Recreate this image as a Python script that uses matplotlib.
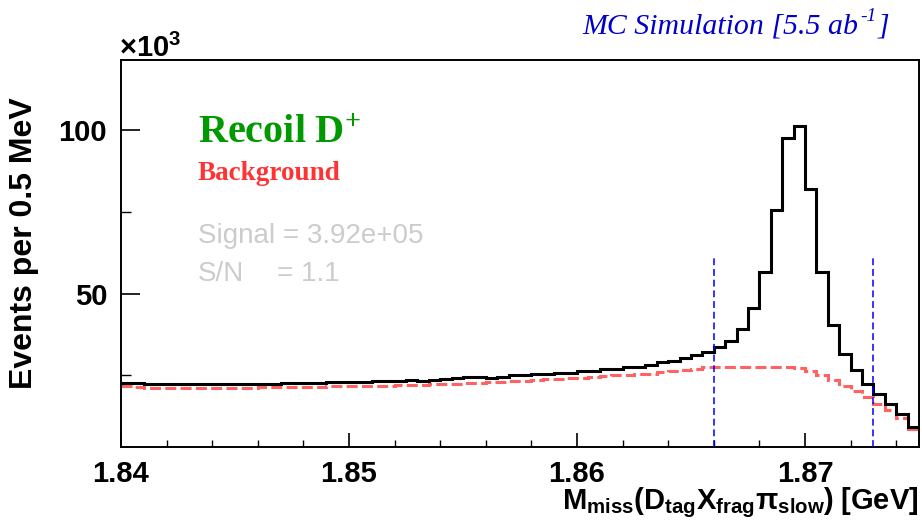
import numpy as np
import matplotlib
matplotlib.use("Agg")
import matplotlib.pyplot as plt

# ---------------- data ----------------
x_min, x_max = 1.84, 1.875
bin_width = 0.0005
y_min, y_max = 3.0, 121.5          # in units of 10^3 events

# total (black) histogram, 70 bins of 0.5 MeV, in 10^3 events
total = [22.7, 22.7, 22.3, 22.3, 22.2, 22.2, 22.2, 22.4, 22.4, 22.4,
         22.3, 22.3, 22.4, 22.4, 22.6, 22.6, 22.6, 22.6, 22.8, 22.8,
         22.9, 22.9, 23.1, 23.1, 23.1, 23.4, 23.3, 23.6, 23.9, 24.0,
         24.3, 24.3, 24.2, 24.3, 24.9, 25.0, 25.2, 25.5, 25.7, 25.8,
         26.2, 26.2, 26.9, 27.0, 27.5, 27.5, 28.1, 28.9, 29.4, 30.2,
         31.1, 32.2, 33.6, 35.5, 39.1, 45.5, 56.7, 75.7, 97.5, 101.4,
         81.9, 56.7, 40.4, 31.6, 26.6, 22.4, 19.2, 16.2, 13.1, 9.0]

# background (red dashed) histogram
background = [21.6, 21.4, 21.2, 21.1, 21.1, 21.1, 21.0, 21.1, 21.1, 21.1,
              21.2, 21.2, 21.3, 21.3, 21.4, 21.4, 21.5, 21.5, 21.6, 21.6,
              21.7, 21.7, 21.8, 21.8, 21.9, 22.0, 22.1, 22.2, 22.3, 22.4,
              22.5, 22.6, 22.8, 22.9, 23.1, 23.3, 23.5, 23.7, 23.9, 24.0,
              24.2, 24.4, 24.6, 24.9, 25.0, 25.2, 25.5, 25.9, 26.2, 26.6,
              27.0, 27.4, 27.6, 27.6, 27.6, 27.6, 27.6, 27.6, 27.6, 27.2,
              26.3, 25.0, 23.5, 21.8, 20.3, 18.3, 16.2, 14.3, 12.0, 8.5]

cut_lines = [1.866, 1.873]
cut_line_top = 60.8

x_ticks = [1.84, 1.85, 1.86, 1.87]
x_tick_labels = ["1.84", "1.85", "1.86", "1.87"]
y_ticks = [50, 100]
y_tick_labels = ["50", "100"]
y_minor_ticks = [25, 75]

signal_text = "Signal = 3.92e+05"
sn_label = "S/N"
sn_value = "= 1.1"
title_main = "MC Simulation [5.5 ab"
title_sup = "-1"
title_end = "]"

# ---------------- style ----------------
plt.rcParams['mathtext.fontset'] = 'custom'
plt.rcParams['mathtext.bf'] = 'Liberation Sans:bold'
plt.rcParams['mathtext.sf'] = 'Liberation Serif:bold'
plt.rcParams['mathtext.it'] = 'Liberation Serif:italic'
plt.rcParams['mathtext.rm'] = 'Liberation Sans:bold'

W, H = 922, 526
fig = plt.figure(figsize=(W / 100, H / 100), dpi=100)
L, R, T, B = 121, 919, 60, 447
ax = fig.add_axes([L / W, (H - B) / H, (R - L) / W, (B - T) / H])

def fx(px):
    return px / W

def fy(py):
    return 1 - py / H

edges = x_min + bin_width * np.arange(len(total) + 1)

ax.stairs(background, edges, baseline=None, color='#ff6262', lw=2.2,
          linestyle=(0, (3.6, 1.4)), zorder=2)
ax.stairs(total, edges, baseline=None, color='black', lw=2.2, zorder=3)

for xc in cut_lines:
    ax.plot([xc, xc], [y_min, cut_line_top], color='#0000ff', lw=1.1,
            linestyle=(0, (4.5, 2.5)), zorder=4)

ax.set_xlim(x_min, x_max)
ax.set_ylim(y_min, y_max)

ax.set_xticks(x_ticks)
ax.set_xticklabels(x_tick_labels)
ax.set_xticks(np.arange(1.842, 1.875, 0.002), minor=True)
ax.set_yticks(y_ticks)
ax.set_yticklabels(y_tick_labels)
ax.set_yticks(y_minor_ticks, minor=True)

ax.tick_params(axis='x', which='major', direction='in', length=10, width=1.2,
               pad=9, top=False)
ax.tick_params(axis='x', which='minor', direction='in', length=5, width=1.0,
               top=False)
ax.tick_params(axis='y', which='major', direction='in', length=14, width=1.2,
               pad=10, right=False)
ax.tick_params(axis='y', which='minor', direction='in', length=7, width=1.0,
               right=False)
for lab in ax.get_xticklabels() + ax.get_yticklabels():
    lab.set_fontfamily('Liberation Sans')
    lab.set_fontweight('bold')
    lab.set_fontsize(21)

for s in ax.spines.values():
    s.set_linewidth(1.4)

# axis titles
fig.text(fx(24), fy(243), "Events per 0.5 MeV", rotation=90, ha='center',
         va='center', fontfamily='Liberation Sans', fontweight='bold',
         fontsize=23)
fig.text(fx(919), fy(509),
         r'$\mathbf{M_{miss}(D_{tag}X_{frag}\pi_{slow})\ [GeV]}$',
         ha='right', va='baseline', fontsize=21)

# exponent
fig.text(fx(119), fy(57), r'$\mathbf{\times 10^{3}}$', ha='left',
         va='baseline', fontsize=21)

# labels
fig.text(fx(198), fy(143), r'$\mathsf{Recoil\ D^{+}}$', ha='left',
         va='baseline', fontsize=29, color='#009900')
fig.text(fx(198), fy(180), "Background", ha='left', va='baseline',
         fontfamily='Liberation Serif', fontweight='bold', fontsize=19.5,
         color='#ff3333')
fig.text(fx(198), fy(243), signal_text, ha='left', va='baseline',
         fontfamily='Liberation Sans', fontsize=20, color='#cccccc')
fig.text(fx(198), fy(281), sn_label, ha='left', va='baseline',
         fontfamily='Liberation Sans', fontsize=20, color='#cccccc')
fig.text(fx(277), fy(281), sn_value, ha='left', va='baseline',
         fontfamily='Liberation Sans', fontsize=20, color='#cccccc')

# title with manual superscript
renderer = fig.canvas.get_renderer()
tprops = dict(fontfamily='Liberation Serif', fontstyle='italic',
              color='#0000cc')
t1 = fig.text(fx(582), fy(33), title_main, ha='left', va='baseline',
              fontsize=21.5, **tprops)
bb1 = t1.get_window_extent(renderer)
x_sup = bb1.x1 + 2
t2 = fig.text(x_sup / W, (H - 33 + 12) / H, title_sup, ha='left',
              va='baseline', fontsize=14, **tprops)
bb2 = t2.get_window_extent(renderer)
fig.text((bb2.x1 + 1) / W, fy(33), title_end, ha='left', va='baseline',
         fontsize=21.5, **tprops)

fig.savefig("out.png", dpi=100)
